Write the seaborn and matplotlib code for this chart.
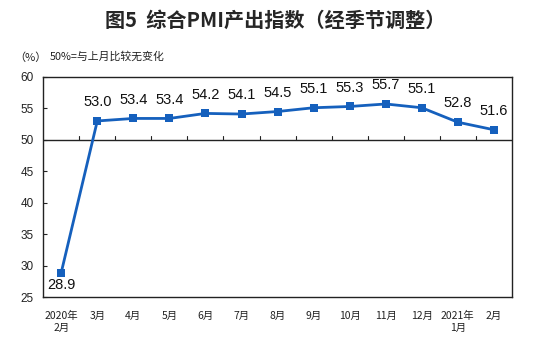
import matplotlib
matplotlib.use("Agg")
import matplotlib.pyplot as plt
import seaborn as sns
import pandas as pd

months = ["2020年\n2月", "3月", "4月", "5月", "6月", "7月", "8月", "9月",
          "10月", "11月", "12月", "2021年\n1月", "2月"]
pmi = [28.9, 53.0, 53.4, 53.4, 54.2, 54.1, 54.5, 55.1, 55.3, 55.7, 55.1, 52.8, 51.6]
y_ticks = [25, 30, 35, 40, 45, 50, 55, 60]

sns.set_theme(style="white")
plt.rcParams["font.family"] = ["Liberation Sans", "Noto Sans CJK SC", "DejaVu Sans"]

df = pd.DataFrame({"idx": range(len(months)), "month": months, "pmi": pmi})

fig = plt.figure(figsize=(5.54, 3.45), dpi=100)
ax = fig.add_axes([0.078, 0.139, 0.846, 0.638])

line_color = "#1560bd"
sns.lineplot(data=df, x="idx", y="pmi", ax=ax, color=line_color, linewidth=2,
             marker="s", markersize=5.5, markeredgewidth=0, markerfacecolor=line_color)

ax.set_xlim(-0.5, len(months) - 0.5)
ax.set_ylim(25, 60)
ax.set_yticks(y_ticks)
ax.set_yticklabels([str(v) for v in y_ticks], fontsize=8.5, color="#222222")
ax.set_xticks(range(len(months)))
ax.set_xticklabels(months, fontsize=7.5, color="#222222",
                   family=["Noto Sans CJK SC", "DejaVu Sans"], linespacing=1.3)
ax.tick_params(axis="x", length=0, pad=10)
ax.tick_params(axis="y", direction="in", length=3, width=0.8, left=True,
               color="#222222", pad=7)
ax.set_xlabel("")
ax.set_ylabel("")

for s in ax.spines.values():
    s.set_color("#222222")
    s.set_linewidth(1)

# baseline at 50 with category separators
ax.axhline(50, color="#222222", linewidth=1, zorder=1)
for b in range(1, len(months)):
    ax.plot([b - 0.5, b - 0.5], [50, 50.6], color="#222222", linewidth=0.8, zorder=1)

for i, v in enumerate(pmi):
    if i == 0:
        ax.annotate(f"{v:.1f}", (i, v), xytext=(0, -9), textcoords="offset points",
                    ha="center", va="center", fontsize=10.5, color="#111111")
    else:
        ax.annotate(f"{v:.1f}", (i, v), xytext=(0, 13.5), textcoords="offset points",
                    ha="center", va="center", fontsize=10.5, color="#111111")

fig.text(0.497, 0.942, "图5  综合PMI产出指数（经季节调整）", ha="center", va="center",
         fontsize=14.5, fontweight="bold", family=["Noto Sans CJK SC", "DejaVu Sans"])
fig.text(0.025, 0.833, "（%）", ha="left", va="center", fontsize=8,
         family=["Noto Sans CJK SC", "DejaVu Sans"], color="#222222")
fig.text(0.09, 0.835, "50%=与上月比较无变化", ha="left", va="center", fontsize=7.8,
         family=["Noto Sans CJK SC", "DejaVu Sans"], color="#222222")

fig.savefig("out.png", dpi=100, facecolor="white")
